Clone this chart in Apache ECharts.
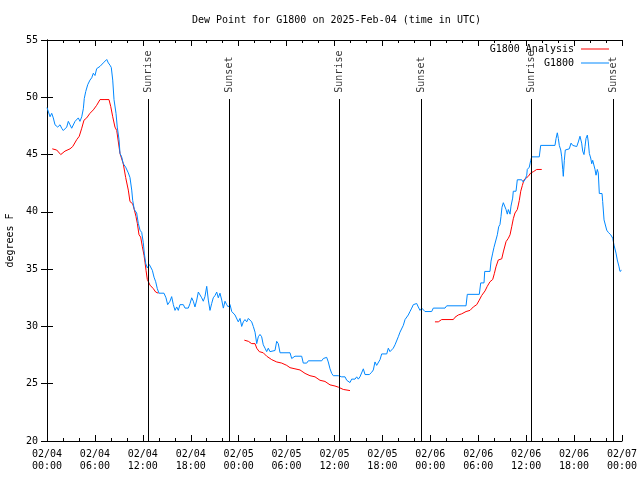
<!DOCTYPE html>
<html>
<head>
<meta charset="utf-8">
<script src="https://cdn.jsdelivr.net/npm/echarts@6/dist/echarts.min.js"></script>
<style>html,body{margin:0;padding:0;background:#fff}#c{width:640px;height:480px}</style>
</head>
<body>
<div id="c"></div>
<script>
// hours since 2025-02-04 00:00 UTC
const blueHours = [0,0.16,0.38,0.59,0.79,1.0,1.34,1.63,1.84,2.04,2.25,2.47,2.67,2.88,3.09,3.29,3.51,3.72,3.92,4.13,4.35,4.55,4.67,4.85,5.10,5.38,5.60,5.80,6.01,6.22,6.42,6.64,6.85,7.05,7.26,7.48,7.68,7.89,8.05,8.23,8.39,8.64,8.80,9.02,9.14,9.35,9.55,9.85,10.18,10.39,10.61,10.73,10.93,11.23,11.43,11.65,11.86,12.06,12.18,12.36,12.56,12.81,13.02,13.19,13.40,13.61,13.81,14.02,14.65,14.90,15.11,15.40,15.61,15.82,16.03,16.24,16.44,16.65,16.87,17.07,17.28,17.69,17.91,18.12,18.32,18.53,18.75,18.95,19.16,19.37,19.57,19.78,20.00,20.20,20.41,20.62,20.82,21.04,21.25,21.45,21.66,21.88,22.08,22.29,22.50,22.70,22.92,23.13,23.33,23.54,23.75,23.95,24.17,24.38,24.58,24.79,25.01,25.21,25.42,25.63,25.83,26.05,26.26,26.46,26.67,26.88,27.08,27.30,27.51,27.71,27.92,28.14,28.55,28.76,28.96,29.18,30.43,30.64,30.84,31.05,31.89,32.09,32.52,32.72,34.40,34.60,34.81,35.02,35.22,35.44,35.65,35.85,36.48,36.69,36.90,37.10,37.32,37.53,37.73,37.94,38.15,38.57,38.78,38.98,39.19,39.41,39.61,39.82,40.36,40.66,40.86,41.07,41.28,41.49,41.70,41.91,42.54,42.74,42.95,43.16,43.36,43.58,43.79,43.99,44.20,44.42,44.62,44.83,45.04,45.24,45.45,45.67,45.87,46.08,46.29,46.49,46.71,46.92,47.12,47.33,48.17,48.37,49.84,50.05,52.47,52.63,54.13,54.31,54.72,54.81,55.47,55.60,55.81,55.97,56.22,56.39,56.56,56.72,56.85,56.97,57.14,57.35,57.48,57.64,57.77,57.98,58.10,58.31,58.39,58.73,58.89,59.44,59.64,59.85,60.07,60.14,60.39,60.57,60.69,61.64,61.82,63.61,63.74,63.90,64.03,64.15,64.33,64.45,64.58,64.65,64.78,64.90,64.99,65.40,65.62,65.83,65.99,66.33,66.53,66.74,66.95,67.08,67.24,67.37,67.49,67.66,67.78,67.91,68.08,68.21,68.33,68.49,68.62,68.75,68.91,69.03,69.16,69.50,69.58,69.75,69.91,70.09,70.29,70.59,70.84,71.00,71.25,71.41,71.63,71.75,71.94];
const blueValues = [49.1,49.0,48.3,48.6,48.2,47.6,47.4,47.6,47.3,47.1,47.1,47.4,47.9,47.6,47.3,47.4,47.9,47.9,48.2,47.9,48.3,49.0,49.9,50.5,51.1,51.5,51.7,52.1,51.9,52.5,52.5,52.7,52.8,53.0,53.1,53.3,53.0,52.8,52.6,51.5,49.8,48.6,47.4,46.3,45.1,44.8,44.2,43.9,43.4,43.0,41.9,41.0,40.2,39.9,39.0,38.4,38.2,37.3,36.4,35.5,35.1,35.4,35.5,34.9,34.3,33.9,33.3,32.9,32.9,32.5,31.9,32.2,32.6,31.9,31.4,31.7,31.4,31.9,32.0,31.9,31.6,31.6,32.0,32.5,32.2,31.7,32.3,33.0,32.9,32.5,32.2,32.6,33.5,32.3,31.4,32.0,32.5,32.7,33.0,32.5,32.9,32.3,31.6,32.2,31.9,31.7,31.9,31.3,31.4,31.0,31.1,30.4,30.7,30.0,30.4,30.6,30.4,30.7,30.8,30.4,30.0,29.5,28.5,29.1,29.3,29.1,28.4,28.1,27.8,28.1,27.8,27.9,27.9,28.7,28.5,27.7,27.7,27.2,27.1,27.4,27.4,26.8,26.8,27.0,27.0,27.2,27.1,27.3,26.9,26.3,25.9,25.7,25.7,25.8,25.6,25.5,25.6,25.3,25.4,25.1,25.4,25.4,25.6,25.4,25.6,25.5,26.3,25.8,25.8,26.0,26.2,26.9,26.6,26.6,27.1,27.6,27.6,28.1,27.8,27.7,28.1,28.4,28.5,29.1,29.5,29.4,30.1,30.6,30.7,31.0,31.3,31.6,31.9,32.0,32.0,31.7,31.4,31.6,31.5,31.3,31.3,31.6,31.6,31.8,31.8,32.8,32.8,33.8,33.8,34.8,34.8,35.7,36.4,36.9,37.0,38.0,38.7,38.9,39.6,40.4,40.8,40.7,40.2,39.8,40.2,39.8,40.5,41.2,41.8,41.8,42.8,42.8,42.6,42.8,43.2,43.7,43.9,44.5,44.8,44.8,45.8,45.8,46.4,46.9,46.4,45.8,45.4,44.8,43.7,43.1,44.5,45.4,45.5,45.5,46.0,45.8,45.7,45.7,46.1,46.6,46.0,45.3,45.0,45.7,46.4,46.7,46.1,45.1,44.7,44.2,44.5,44.4,43.7,43.2,43.7,43.4,41.6,41.6,40.9,39.3,39.3,38.4,38.2,38.0,37.7,37.1,36.4,35.8,35.2,34.8,34.9];

const redHours = [0.66,1.21,1.72,2.25,2.88,3.22,3.72,4.04,4.35,4.63,4.97,5.38,5.80,6.22,6.64,7.26,7.76,7.98,8.23,8.51,8.73,9.14,9.55,9.85,10.18,10.39,10.73,10.93,11.14,11.31,11.52,11.73,11.93,12.15,12.27,12.40,12.56,12.90,13.31,13.61,13.94,
  19.0,
  24.71,25.21,25.63,26.05,26.26,26.58,27.08,27.51,28.14,28.76,29.39,30.02,30.43,31.05,31.68,32.31,32.93,33.56,34.18,34.81,35.44,36.06,36.48,37.10,37.94,
  43.0,
  48.58,49.00,49.42,50.88,51.09,51.50,51.93,52.47,52.97,53.38,53.81,54.13,54.43,54.85,55.13,55.47,55.81,56.01,56.22,56.51,56.94,57.14,57.48,57.77,57.98,58.19,58.39,58.60,58.89,59.02,59.14,59.32,59.52,59.73,59.98,60.27,60.57,60.89,61.32,61.95];
const redValues = [45.5,45.4,45.0,45.3,45.5,45.7,46.3,46.6,47.3,48.0,48.2,48.6,48.9,49.3,49.8,49.8,49.8,49.2,48.3,47.4,47.1,45.1,44.2,43.0,41.9,40.9,40.7,40.2,39.6,39.0,38.0,37.8,37.0,36.2,35.6,34.9,34.1,33.6,33.3,33.0,32.9,
  null,
  28.8,28.7,28.5,28.5,28.1,27.8,27.7,27.4,27.1,26.9,26.8,26.6,26.4,26.3,26.2,25.9,25.7,25.6,25.3,25.2,24.9,24.8,24.7,24.5,24.4,
  null,
  30.4,30.4,30.6,30.6,30.8,31.0,31.1,31.3,31.4,31.7,31.9,32.3,32.7,33.1,33.5,33.9,34.1,34.6,35.2,35.8,35.9,36.5,37.4,37.7,38.0,38.7,39.4,39.9,40.2,40.6,41.0,41.8,42.3,42.8,42.8,43.1,43.4,43.5,43.7,43.7];

const sunHours = [12.68, 22.83, 36.60, 46.87, 60.69, 70.91];
const sunLabels = ['Sunrise','Sunset','Sunrise','Sunset','Sunrise','Sunset'];
const sunLineTop = 49.85;
const sunLabelBase = 50.4;

const titleText = 'Dew Point for G1800 on 2025-Feb-04 (time in UTC)';

const FONT = 'DejaVu Sans Mono';
function pad(n){return (n<10?'0':'')+n;}
function fmtX(h){
  const d = 4 + Math.floor(h/24 + 1e-9);
  const hh = Math.round(h - (d-4)*24);
  return '02/' + pad(d) + '\n' + pad(hh) + ':00';
}

const chart = echarts.init(document.getElementById('c'), null, {renderer:'canvas'});
const blueData = blueHours.map((h,i)=>[h, blueValues[i]]);
const redData = redHours.map((h,i)=>[h, redValues[i] === null ? '-' : redValues[i]]);
const sunData = sunHours.map((h,i)=>({value:[h, sunLabelBase], name: sunLabels[i]}));
const sunLines = sunHours.map(h=>[{coord:[h, sunLineTop]},{coord:[h, 20]}]);

const axisCommon = {
  axisLine:{show:true, lineStyle:{color:'#000', width:1}},
  splitLine:{show:false}
};
const legendCommon = {orient:'vertical', align:'right', icon:'rect', itemWidth:28, itemHeight:1, itemGap:4, padding:0,
  textStyle:{fontFamily:FONT, fontSize:10, color:'#000', padding:[0,2,0,0]}};

chart.setOption({
  animation:false,
  backgroundColor:'#fff',
  textStyle:{fontFamily:FONT},
  title:{text:titleText, left:187, top:10, textStyle:{fontFamily:FONT, fontSize:10, fontWeight:'normal', color:'#000'}},
  legend:[
    Object.assign({data:['G1800 Analysis'], right:31, top:44}, legendCommon),
    Object.assign({data:['G1800'], right:31, top:58}, legendCommon)
  ],
  grid:{left:47, right:18, top:40, bottom:39, containLabel:false, outerBoundsMode:'none'},
  xAxis:[
    Object.assign({type:'value', min:0, max:72, interval:6, position:'bottom',
      axisTick:{show:true, inside:true, length:6, lineStyle:{color:'#000'}},
      minorTick:{show:true, splitNumber:3, length:3, lineStyle:{color:'#000'}},
      axisLabel:{formatter:fmtX, fontFamily:FONT, fontSize:10, color:'#000', lineHeight:12, margin:7}}, axisCommon),
    Object.assign({type:'value', min:0, max:72, interval:6, position:'top',
      axisTick:{show:true, inside:true, length:6, lineStyle:{color:'#000'}},
      minorTick:{show:true, splitNumber:3, length:3, lineStyle:{color:'#000'}},
      axisLabel:{show:false}}, axisCommon)
  ],
  yAxis:[
    Object.assign({type:'value', min:20, max:55, interval:5, position:'left',
      name:'degrees F', nameLocation:'middle', nameGap:32, nameRotate:90,
      nameTextStyle:{fontFamily:FONT, fontSize:10, color:'#000'},
      axisTick:{show:true, inside:true, length:6, lineStyle:{color:'#000'}},
      axisLabel:{fontFamily:FONT, fontSize:10, color:'#000', margin:9}}, axisCommon),
    Object.assign({type:'value', min:20, max:55, interval:5, position:'right',
      axisTick:{show:true, inside:true, length:6, lineStyle:{color:'#000'}},
      axisLabel:{show:false}}, axisCommon)
  ],
  series:[
    {name:'G1800 Analysis', type:'line', data:redData, showSymbol:false, symbol:'none', connectNulls:false,
     lineStyle:{color:'#ff0000', width:1}, itemStyle:{color:'#ff0000'}, z:2},
    {name:'G1800', type:'line', data:blueData, showSymbol:false, symbol:'none',
     lineStyle:{color:'#0088ff', width:1}, itemStyle:{color:'#0088ff'}, z:3,
     markLine:{silent:true, symbol:['none','none'], label:{show:false},
       lineStyle:{color:'#000', width:1, type:'solid'}, data:sunLines}},
    {name:'sun', type:'scatter', data:sunData, symbolSize:0, silent:true,
     label:{show:true, position:'inside', formatter:p=>p.name, rotate:90, align:'left', verticalAlign:'middle',
       fontFamily:FONT, fontSize:10, color:'#000'}, z:4}
  ]
});
</script>
</body>
</html>
